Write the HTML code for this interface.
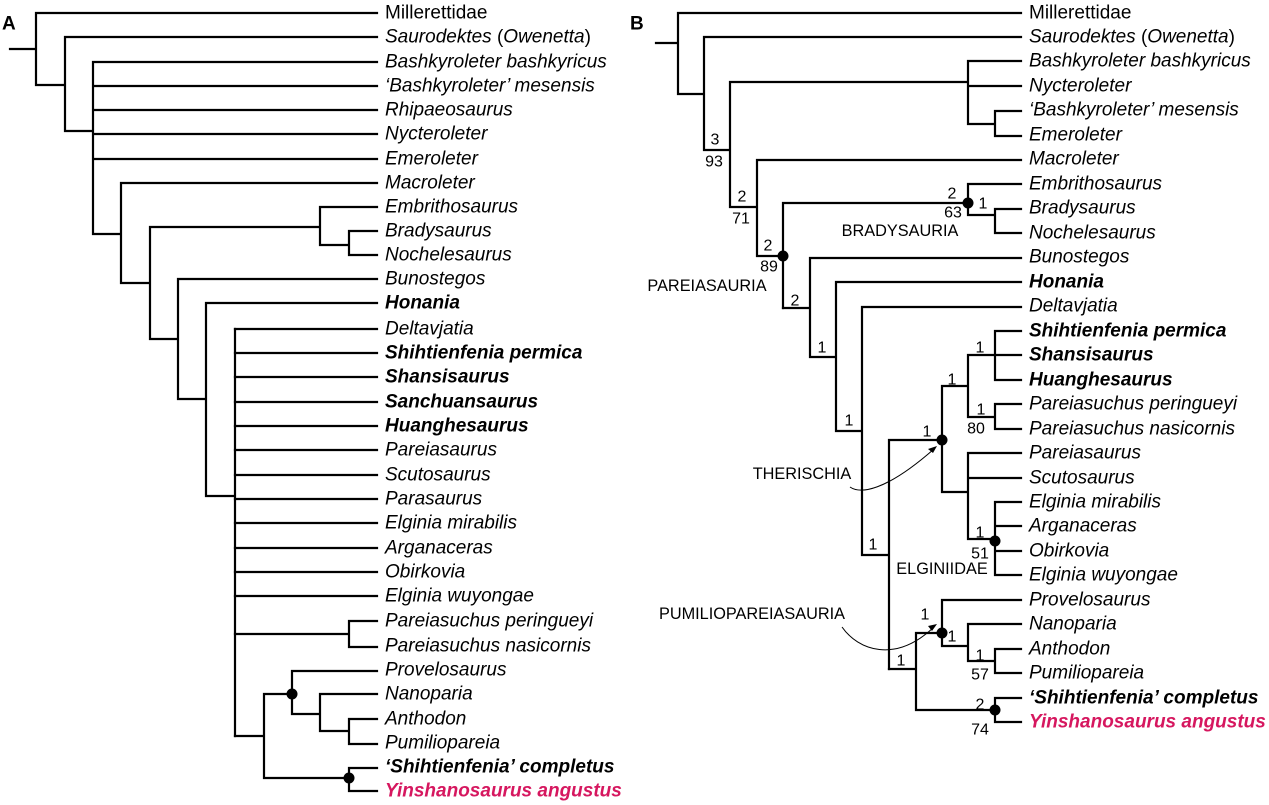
<!DOCTYPE html>
<html><head><meta charset="utf-8"><style>
html,body{margin:0;padding:0;background:#fff}
svg{display:block}
text{font-family:"Liberation Sans",Arial,sans-serif}
.t{font-size:19px;font-style:italic;dominant-baseline:central}
.b{font-weight:bold}
.n{font-size:16px;text-anchor:middle;dominant-baseline:central}
.c{font-size:16.3px;text-anchor:middle;dominant-baseline:central}
</style></head><body>
<svg width="1269" height="805" viewBox="0 0 1269 805" xmlns="http://www.w3.org/2000/svg">
<text x="2" y="24" font-size="19" font-weight="bold" dominant-baseline="central">A</text>
<text x="630" y="24" font-size="19" font-weight="bold" dominant-baseline="central">B</text>
<g stroke="#000" stroke-width="2.2" fill="none" stroke-linecap="square">
<!-- LEFT -->
<path d="M10 49H36M36 13V85M36 13H377M36 85H65M65 37V131M65 37H377M65 131H93M93 62V234M93 62H377M93 86H377M93 110H377M93 134H377M93 159H377M93 234H121M121 183V283M121 183H377M121 283H150M150 227V339M150 227H320M320 207V245M320 207H377M320 245H349M349 231V255M349 231H377M349 255H377M150 339H178M178 279V399M178 279H377M178 399H206M206 303V496M206 303H377M206 496H235M235 329V736"/>
<path d="M235 329H377M235 353H377M235 377H377M235 402H377M235 426H377M235 450H377M235 475H377M235 499H377M235 523H377M235 548H377M235 572H377M235 596H377M235 634H349M349 621V647M349 621H377M349 647H377M235 736H264M264 694V778M264 694H292M292 671V714M292 671H377M292 714H320M320 694V731M320 694H377M320 731H349M349 719V744M349 719H377M349 744H377M264 778H349M349 768V791M349 768H377M349 791H377"/>
<!-- RIGHT -->
<path d="M656 43H678M678 13V94M678 13H1021M678 94H704M704 37V150M704 37H1021M704 150H730M730 82V207M730 82H968M968 61V124M968 61H1021M968 86H1021M968 124H995M995 111V136M995 111H1021M995 136H1021M730 207H757M757 160V256M757 160H1021M757 256H783M783 203V308M783 203H968M968 184V215M968 184H1021M968 215H995M995 209V233M995 209H1021M995 233H1021"/>
<path d="M783 308H810M810 258V357M810 258H1021M810 357H836M836 282V431M836 282H1021M836 431H862M862 307V555M862 307H1021M862 555H889M889 440V669M889 440H942M942 386V492M942 386H968M968 355V417M968 355H1021M995 331V380M995 331H1021M995 380H1021M968 417H995M995 404V429M995 404H1021M995 429H1021M942 492H968M968 453V539M968 453H1021M968 478H1021M968 539H995M995 502V575M995 502H1021M995 526H1021M995 551H1021M995 575H1021"/>
<path d="M889 669H916M916 633V710M916 633H942M942 600V646M942 600H1021M942 646H968M968 624V661M968 624H1021M968 661H995M995 649V673M995 649H1021M995 673H1021M916 710H995M995 698V722M995 698H1021M995 722H1021"/>
</g>
<g fill="#000">
<circle cx="292" cy="694" r="5.5"/><circle cx="349" cy="778" r="5.5"/>
<circle cx="968" cy="203" r="5.5"/><circle cx="783" cy="256" r="5.5"/><circle cx="942" cy="440" r="5.5"/><circle cx="995" cy="541" r="5.5"/><circle cx="942" cy="633" r="5.5"/><circle cx="995" cy="710" r="5.5"/>
</g>
<g stroke="#000" stroke-width="1" fill="none">
<path d="M850 487C860 494 885 492 934 449"/>
<path d="M842 627C858 650 895 664 934 627"/>
</g>
<path d="M937 446l-9 3 5 4z" fill="#000"/>
<path d="M937 624l-9 2 4 5z" fill="#000"/>
<!-- LEFT LABELS -->
<g class="t">
<text x="385" y="13" font-style="normal">Millerettidae</text>
<text x="385" y="37">Saurodektes <tspan font-style="normal">(</tspan>Owenetta<tspan font-style="normal">)</tspan></text>
<text x="385" y="62">Bashkyroleter bashkyricus</text>
<text x="385" y="86">‘Bashkyroleter’ mesensis</text>
<text x="385" y="110">Rhipaeosaurus</text>
<text x="385" y="134">Nycteroleter</text>
<text x="385" y="159">Emeroleter</text>
<text x="385" y="183">Macroleter</text>
<text x="385" y="207">Embrithosaurus</text>
<text x="385" y="231">Bradysaurus</text>
<text x="385" y="255">Nochelesaurus</text>
<text x="385" y="279">Bunostegos</text>
<text x="385" y="303" class="t b">Honania</text>
<text x="385" y="329">Deltavjatia</text>
<text x="385" y="353" class="t b">Shihtienfenia permica</text>
<text x="385" y="377" class="t b">Shansisaurus</text>
<text x="385" y="402" class="t b">Sanchuansaurus</text>
<text x="385" y="426" class="t b">Huanghesaurus</text>
<text x="385" y="450">Pareiasaurus</text>
<text x="385" y="475">Scutosaurus</text>
<text x="385" y="499">Parasaurus</text>
<text x="385" y="523">Elginia mirabilis</text>
<text x="385" y="548">Arganaceras</text>
<text x="385" y="572">Obirkovia</text>
<text x="385" y="596">Elginia wuyongae</text>
<text x="385" y="621">Pareiasuchus peringueyi</text>
<text x="385" y="646">Pareiasuchus nasicornis</text>
<text x="385" y="670">Provelosaurus</text>
<text x="385" y="694">Nanoparia</text>
<text x="385" y="719">Anthodon</text>
<text x="385" y="743">Pumiliopareia</text>
<text x="385" y="767" class="t b">‘Shihtienfenia’ completus</text>
<text x="385" y="791" class="t b" fill="#d6175f">Yinshanosaurus angustus</text>
</g>
<!-- RIGHT LABELS -->
<g class="t">
<text x="1029" y="13" font-style="normal">Millerettidae</text>
<text x="1029" y="37">Saurodektes <tspan font-style="normal">(</tspan>Owenetta<tspan font-style="normal">)</tspan></text>
<text x="1029" y="61">Bashkyroleter bashkyricus</text>
<text x="1029" y="86">Nycteroleter</text>
<text x="1029" y="110">‘Bashkyroleter’ mesensis</text>
<text x="1029" y="135">Emeroleter</text>
<text x="1029" y="159">Macroleter</text>
<text x="1029" y="184">Embrithosaurus</text>
<text x="1029" y="208">Bradysaurus</text>
<text x="1029" y="233">Nochelesaurus</text>
<text x="1029" y="257">Bunostegos</text>
<text x="1029" y="282" class="t b">Honania</text>
<text x="1029" y="306">Deltavjatia</text>
<text x="1029" y="331" class="t b">Shihtienfenia permica</text>
<text x="1029" y="355" class="t b">Shansisaurus</text>
<text x="1029" y="380" class="t b">Huanghesaurus</text>
<text x="1029" y="404">Pareiasuchus peringueyi</text>
<text x="1029" y="429">Pareiasuchus nasicornis</text>
<text x="1029" y="453">Pareiasaurus</text>
<text x="1029" y="478">Scutosaurus</text>
<text x="1029" y="502">Elginia mirabilis</text>
<text x="1029" y="526">Arganaceras</text>
<text x="1029" y="551">Obirkovia</text>
<text x="1029" y="575">Elginia wuyongae</text>
<text x="1029" y="600">Provelosaurus</text>
<text x="1029" y="624">Nanoparia</text>
<text x="1029" y="649">Anthodon</text>
<text x="1029" y="673">Pumiliopareia</text>
<text x="1029" y="698" class="t b">‘Shihtienfenia’ completus</text>
<text x="1029" y="722" class="t b" fill="#d6175f">Yinshanosaurus angustus</text>
</g>
<g class="n">
<text x="715" y="140">3</text><text x="714" y="162">93</text>
<text x="742" y="197">2</text><text x="741" y="219">71</text>
<text x="768" y="246">2</text><text x="769" y="267">89</text>
<text x="795" y="301">2</text>
<text x="952" y="194">2</text><text x="953" y="213">63</text><text x="983" y="204">1</text>
<text x="822" y="348">1</text><text x="849" y="421">1</text>
<text x="927" y="432">1</text><text x="952" y="380">1</text>
<text x="980" y="348">1</text><text x="981" y="410">1</text><text x="976" y="429">80</text>
<text x="873" y="545">1</text>
<text x="980" y="533">1</text><text x="980" y="554">51</text>
<text x="925" y="615">1</text><text x="952" y="637">1</text>
<text x="980" y="656">1</text><text x="980" y="675">57</text>
<text x="901" y="661">1</text>
<text x="980" y="705">2</text><text x="980" y="730">74</text>
</g>
<g class="c">
<text x="707" y="286">PAREIASAURIA</text>
<text x="900" y="231">BRADYSAURIA</text>
<text x="802" y="474">THERISCHIA</text>
<text x="942" y="569">ELGINIIDAE</text>
<text x="752" y="614">PUMILIOPAREIASAURIA</text>
</g>
</svg>
</body></html>
